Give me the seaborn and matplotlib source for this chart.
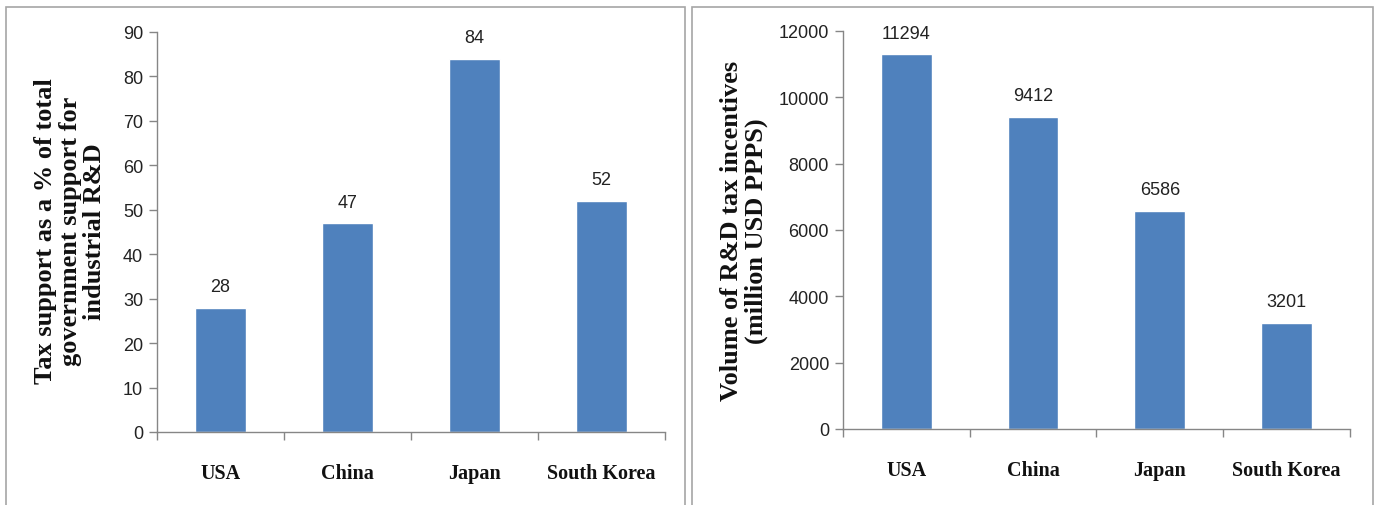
import matplotlib
matplotlib.use("Agg")
import matplotlib.pyplot as plt
import matplotlib.patches as mpatches
from matplotlib.ticker import FixedLocator, MultipleLocator
import seaborn as sns
import pandas as pd

countries = ["USA", "China", "Japan", "South Korea"]
tax_share_pct = [28, 47, 84, 52]
incentive_volume = [11294, 9412, 6586, 3201]

left_ylabel = "Tax support as a % of total\ngovernment support for\nindustrial R&D"
right_ylabel = "Volume of R&D tax incentives\n(million USD PPPS)"

sns.set_theme(style="white")
plt.rcParams["font.family"] = ["Liberation Sans Narrow", "Liberation Sans", "DejaVu Sans"]

BAR = "#4F81BD"
AXIS = "#868686"
SERIF = ["Liberation Serif", "DejaVu Serif"]

fig = plt.figure(figsize=(13.76, 5.06), dpi=100)

# panel frames
for x0, x1 in [(0.004, 0.498), (0.503, 0.998)]:
    fig.patches.append(mpatches.Rectangle((x0, -0.01), x1 - x0, 0.995,
                                          transform=fig.transFigure, fill=False,
                                          edgecolor="#a6a6a6", linewidth=1.2))

ax1 = fig.add_axes([0.1141, 0.1443, 0.3692, 0.7905])
ax2 = fig.add_axes([0.6126, 0.1502, 0.3685, 0.7866])


def draw(ax, values, ymax, step, ylabel, label_x):
    df = pd.DataFrame({"country": countries, "value": values})
    sns.barplot(data=df, x="country", y="value", color=BAR, width=0.4,
                saturation=1, ax=ax)
    ax.set_xlim(-0.5, len(countries) - 0.5)
    ax.set_ylim(0, ymax)
    ax.yaxis.set_major_locator(MultipleLocator(step))
    for s in ["top", "right"]:
        ax.spines[s].set_visible(False)
    for s in ["left", "bottom"]:
        ax.spines[s].set_color(AXIS)
        ax.spines[s].set_linewidth(1.0)
    ax.tick_params(axis="y", direction="out", length=6, color=AXIS, width=1,
                   labelsize=13, labelcolor="#222222", pad=4, left=True)
    ax.tick_params(axis="x", which="major", length=0, pad=22)
    ax.xaxis.set_minor_locator(FixedLocator([i - 0.5 for i in range(len(countries) + 1)]))
    ax.tick_params(axis="x", which="minor", direction="out", length=6, color=AXIS,
                   width=1, bottom=True)
    ax.set_xticks(range(len(countries)))
    ax.set_xticklabels(countries, fontfamily=SERIF, fontweight="bold",
                       fontsize=14.5, color="#111111")
    ax.set_xlabel("")
    ax.set_ylabel("")
    for i, v in enumerate(values):
        ax.annotate(f"{v}", (i, v), xytext=(0, 9), textcoords="offset points",
                    ha="center", va="bottom", fontsize=13, color="#222222")
    fig.text(label_x, 0.543, ylabel, rotation=90, ha="center", va="center",
             family=SERIF, fontweight="bold", fontsize=19, color="#111111",
             linespacing=1.08)


draw(ax1, tax_share_pct, 90, 10, left_ylabel, 0.051)
draw(ax2, incentive_volume, 12000, 2000, right_ylabel, 0.541)

fig.savefig("out.png", dpi=100)
